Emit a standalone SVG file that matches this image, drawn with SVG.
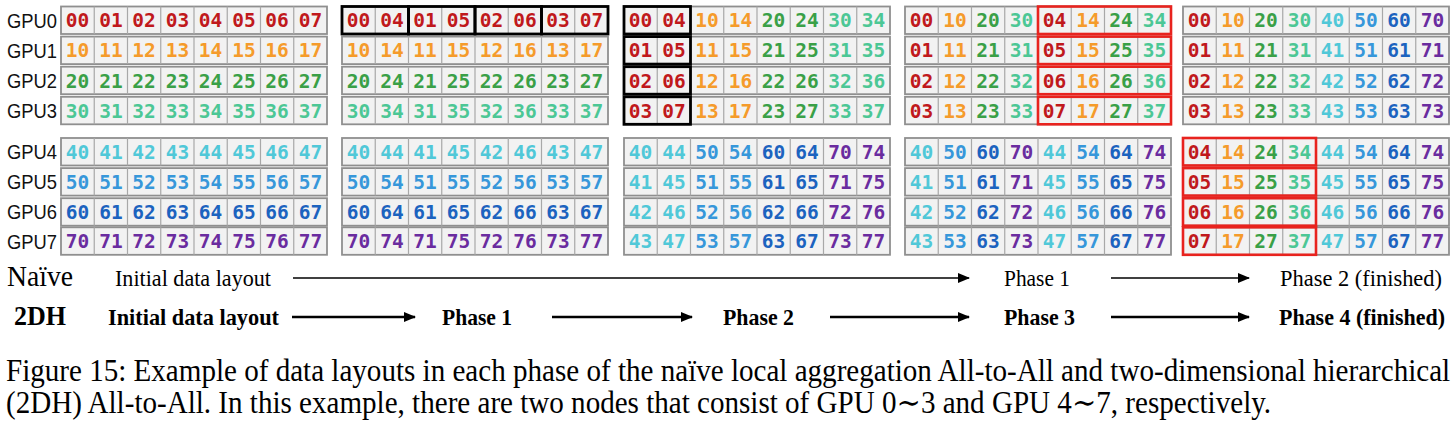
<svg xmlns="http://www.w3.org/2000/svg" xmlns:xlink="http://www.w3.org/1999/xlink" width="1456" height="427" viewBox="0 0 1456 427">
<style>
.n text{font-family:"DejaVu Sans Mono","Liberation Mono",monospace;font-weight:bold;font-size:19.5px;text-anchor:middle}
.c0{fill:#C0191C}.c1{fill:#F59B2B}.c2{fill:#3AA047}.c3{fill:#4CC795}
.c4{fill:#50C8D8}.c5{fill:#3797DA}.c6{fill:#1C63BF}.c7{fill:#6A2C9F}
.gpu{font-family:"Liberation Sans",Arial,sans-serif;font-size:21px;fill:#111}
.lab{font-family:"Liberation Serif","Times New Roman",serif;font-size:23.5px;fill:#000}
.b{font-weight:bold;font-size:23px}
.cap{font-family:"Liberation Serif","DejaVu Serif","Times New Roman",serif;font-size:31px;fill:#000}
.kb{fill:none;stroke:#000;stroke-width:2.8}
.rb{fill:none;stroke:#E8231E;stroke-width:2.6}
.a1{stroke:#000;stroke-width:1.6;fill:none}
.a2{stroke:#000;stroke-width:2.4;fill:none}
</style>
<defs>
<g id="f">
<rect x="0" y="0" width="266" height="27.5" fill="#F2F2F2" stroke="#8F8F8F" stroke-width="1.8"/>
<path d="M33.25,0V27.5M66.5,0V27.5M99.75,0V27.5M133,0V27.5M166.25,0V27.5M199.5,0V27.5M232.75,0V27.5" stroke="#A8A8A8" stroke-width="1.2"/>
</g>
<marker id="ah" viewBox="0 0 12 10" refX="11" refY="5" markerWidth="12" markerHeight="10" markerUnits="userSpaceOnUse" orient="auto"><path d="M0,0L12,5L0,10z" fill="#000"/></marker>
</defs>

<g id="gpu-labels" class="gpu">
<text x="7" y="27.75" textLength="50" lengthAdjust="spacingAndGlyphs">GPU0</text>
<text x="7" y="57.85" textLength="50" lengthAdjust="spacingAndGlyphs">GPU1</text>
<text x="7" y="87.95" textLength="50" lengthAdjust="spacingAndGlyphs">GPU2</text>
<text x="7" y="118.05" textLength="50" lengthAdjust="spacingAndGlyphs">GPU3</text>
<text x="7" y="159.25" textLength="50" lengthAdjust="spacingAndGlyphs">GPU4</text>
<text x="7" y="189.35" textLength="50" lengthAdjust="spacingAndGlyphs">GPU5</text>
<text x="7" y="219.45" textLength="50" lengthAdjust="spacingAndGlyphs">GPU6</text>
<text x="7" y="248.55" textLength="50" lengthAdjust="spacingAndGlyphs">GPU7</text>
</g>

<!-- Panel 1: initial layout -->
<g id="panel1" class="n">
<use xlink:href="#f" x="61" y="6.5"/><use xlink:href="#f" x="61" y="36.6"/><use xlink:href="#f" x="61" y="66.7"/><use xlink:href="#f" x="61" y="96.8"/>
<use xlink:href="#f" x="61" y="138"/><use xlink:href="#f" x="61" y="168.1"/><use xlink:href="#f" x="61" y="198.2"/><use xlink:href="#f" x="61" y="227.3"/>
<g transform="translate(61,27.3)" class="c0"><text x="16.6">00</text><text x="49.9">01</text><text x="83.1">02</text><text x="116.4">03</text><text x="149.6">04</text><text x="182.9">05</text><text x="216.1">06</text><text x="249.4">07</text></g>
<g transform="translate(61,57.4)" class="c1"><text x="16.6">10</text><text x="49.9">11</text><text x="83.1">12</text><text x="116.4">13</text><text x="149.6">14</text><text x="182.9">15</text><text x="216.1">16</text><text x="249.4">17</text></g>
<g transform="translate(61,87.5)" class="c2"><text x="16.6">20</text><text x="49.9">21</text><text x="83.1">22</text><text x="116.4">23</text><text x="149.6">24</text><text x="182.9">25</text><text x="216.1">26</text><text x="249.4">27</text></g>
<g transform="translate(61,117.6)" class="c3"><text x="16.6">30</text><text x="49.9">31</text><text x="83.1">32</text><text x="116.4">33</text><text x="149.6">34</text><text x="182.9">35</text><text x="216.1">36</text><text x="249.4">37</text></g>
<g transform="translate(61,158.8)" class="c4"><text x="16.6">40</text><text x="49.9">41</text><text x="83.1">42</text><text x="116.4">43</text><text x="149.6">44</text><text x="182.9">45</text><text x="216.1">46</text><text x="249.4">47</text></g>
<g transform="translate(61,188.9)" class="c5"><text x="16.6">50</text><text x="49.9">51</text><text x="83.1">52</text><text x="116.4">53</text><text x="149.6">54</text><text x="182.9">55</text><text x="216.1">56</text><text x="249.4">57</text></g>
<g transform="translate(61,219)" class="c6"><text x="16.6">60</text><text x="49.9">61</text><text x="83.1">62</text><text x="116.4">63</text><text x="149.6">64</text><text x="182.9">65</text><text x="216.1">66</text><text x="249.4">67</text></g>
<g transform="translate(61,248.1)" class="c7"><text x="16.6">70</text><text x="49.9">71</text><text x="83.1">72</text><text x="116.4">73</text><text x="149.6">74</text><text x="182.9">75</text><text x="216.1">76</text><text x="249.4">77</text></g>
</g>

<!-- Panel 2 -->
<g id="panel2" class="n">
<use xlink:href="#f" x="342" y="6.5"/><use xlink:href="#f" x="342" y="36.6"/><use xlink:href="#f" x="342" y="66.7"/><use xlink:href="#f" x="342" y="96.8"/>
<use xlink:href="#f" x="342" y="138"/><use xlink:href="#f" x="342" y="168.1"/><use xlink:href="#f" x="342" y="198.2"/><use xlink:href="#f" x="342" y="227.3"/>
<g transform="translate(342,27.3)" class="c0"><text x="16.6">00</text><text x="49.9">04</text><text x="83.1">01</text><text x="116.4">05</text><text x="149.6">02</text><text x="182.9">06</text><text x="216.1">03</text><text x="249.4">07</text></g>
<g transform="translate(342,57.4)" class="c1"><text x="16.6">10</text><text x="49.9">14</text><text x="83.1">11</text><text x="116.4">15</text><text x="149.6">12</text><text x="182.9">16</text><text x="216.1">13</text><text x="249.4">17</text></g>
<g transform="translate(342,87.5)" class="c2"><text x="16.6">20</text><text x="49.9">24</text><text x="83.1">21</text><text x="116.4">25</text><text x="149.6">22</text><text x="182.9">26</text><text x="216.1">23</text><text x="249.4">27</text></g>
<g transform="translate(342,117.6)" class="c3"><text x="16.6">30</text><text x="49.9">34</text><text x="83.1">31</text><text x="116.4">35</text><text x="149.6">32</text><text x="182.9">36</text><text x="216.1">33</text><text x="249.4">37</text></g>
<g transform="translate(342,158.8)" class="c4"><text x="16.6">40</text><text x="49.9">44</text><text x="83.1">41</text><text x="116.4">45</text><text x="149.6">42</text><text x="182.9">46</text><text x="216.1">43</text><text x="249.4">47</text></g>
<g transform="translate(342,188.9)" class="c5"><text x="16.6">50</text><text x="49.9">54</text><text x="83.1">51</text><text x="116.4">55</text><text x="149.6">52</text><text x="182.9">56</text><text x="216.1">53</text><text x="249.4">57</text></g>
<g transform="translate(342,219)" class="c6"><text x="16.6">60</text><text x="49.9">64</text><text x="83.1">61</text><text x="116.4">65</text><text x="149.6">62</text><text x="182.9">66</text><text x="216.1">63</text><text x="249.4">67</text></g>
<g transform="translate(342,248.1)" class="c7"><text x="16.6">70</text><text x="49.9">74</text><text x="83.1">71</text><text x="116.4">75</text><text x="149.6">72</text><text x="182.9">76</text><text x="216.1">73</text><text x="249.4">77</text></g>
<rect class="kb" x="342" y="6.5" width="66.5" height="27.5"/><rect class="kb" x="408.5" y="6.5" width="66.5" height="27.5"/><rect class="kb" x="475" y="6.5" width="66.5" height="27.5"/><rect class="kb" x="541.5" y="6.5" width="66.5" height="27.5"/>
</g>

<!-- Panel 3 -->
<g id="panel3" class="n">
<use xlink:href="#f" x="624" y="6.5"/><use xlink:href="#f" x="624" y="36.6"/><use xlink:href="#f" x="624" y="66.7"/><use xlink:href="#f" x="624" y="96.8"/>
<use xlink:href="#f" x="624" y="138"/><use xlink:href="#f" x="624" y="168.1"/><use xlink:href="#f" x="624" y="198.2"/><use xlink:href="#f" x="624" y="227.3"/>
<g transform="translate(624,27.3)"><text x="16.6" class="c0">00</text><text x="49.9" class="c0">04</text><text x="83.1" class="c1">10</text><text x="116.4" class="c1">14</text><text x="149.6" class="c2">20</text><text x="182.9" class="c2">24</text><text x="216.1" class="c3">30</text><text x="249.4" class="c3">34</text></g>
<g transform="translate(624,57.4)"><text x="16.6" class="c0">01</text><text x="49.9" class="c0">05</text><text x="83.1" class="c1">11</text><text x="116.4" class="c1">15</text><text x="149.6" class="c2">21</text><text x="182.9" class="c2">25</text><text x="216.1" class="c3">31</text><text x="249.4" class="c3">35</text></g>
<g transform="translate(624,87.5)"><text x="16.6" class="c0">02</text><text x="49.9" class="c0">06</text><text x="83.1" class="c1">12</text><text x="116.4" class="c1">16</text><text x="149.6" class="c2">22</text><text x="182.9" class="c2">26</text><text x="216.1" class="c3">32</text><text x="249.4" class="c3">36</text></g>
<g transform="translate(624,117.6)"><text x="16.6" class="c0">03</text><text x="49.9" class="c0">07</text><text x="83.1" class="c1">13</text><text x="116.4" class="c1">17</text><text x="149.6" class="c2">23</text><text x="182.9" class="c2">27</text><text x="216.1" class="c3">33</text><text x="249.4" class="c3">37</text></g>
<g transform="translate(624,158.8)"><text x="16.6" class="c4">40</text><text x="49.9" class="c4">44</text><text x="83.1" class="c5">50</text><text x="116.4" class="c5">54</text><text x="149.6" class="c6">60</text><text x="182.9" class="c6">64</text><text x="216.1" class="c7">70</text><text x="249.4" class="c7">74</text></g>
<g transform="translate(624,188.9)"><text x="16.6" class="c4">41</text><text x="49.9" class="c4">45</text><text x="83.1" class="c5">51</text><text x="116.4" class="c5">55</text><text x="149.6" class="c6">61</text><text x="182.9" class="c6">65</text><text x="216.1" class="c7">71</text><text x="249.4" class="c7">75</text></g>
<g transform="translate(624,219)"><text x="16.6" class="c4">42</text><text x="49.9" class="c4">46</text><text x="83.1" class="c5">52</text><text x="116.4" class="c5">56</text><text x="149.6" class="c6">62</text><text x="182.9" class="c6">66</text><text x="216.1" class="c7">72</text><text x="249.4" class="c7">76</text></g>
<g transform="translate(624,248.1)"><text x="16.6" class="c4">43</text><text x="49.9" class="c4">47</text><text x="83.1" class="c5">53</text><text x="116.4" class="c5">57</text><text x="149.6" class="c6">63</text><text x="182.9" class="c6">67</text><text x="216.1" class="c7">73</text><text x="249.4" class="c7">77</text></g>
<rect class="kb" x="624" y="6.5" width="66.5" height="27.5"/><rect class="kb" x="624" y="36.6" width="66.5" height="27.5"/><rect class="kb" x="624" y="66.7" width="66.5" height="27.5"/><rect class="kb" x="624" y="96.8" width="66.5" height="27.5"/>
</g>

<!-- Panel 4 -->
<g id="panel4" class="n">
<use xlink:href="#f" x="905" y="6.5"/><use xlink:href="#f" x="905" y="36.6"/><use xlink:href="#f" x="905" y="66.7"/><use xlink:href="#f" x="905" y="96.8"/>
<use xlink:href="#f" x="905" y="138"/><use xlink:href="#f" x="905" y="168.1"/><use xlink:href="#f" x="905" y="198.2"/><use xlink:href="#f" x="905" y="227.3"/>
<g transform="translate(905,27.3)"><text x="16.6" class="c0">00</text><text x="49.9" class="c1">10</text><text x="83.1" class="c2">20</text><text x="116.4" class="c3">30</text><text x="149.6" class="c0">04</text><text x="182.9" class="c1">14</text><text x="216.1" class="c2">24</text><text x="249.4" class="c3">34</text></g>
<g transform="translate(905,57.4)"><text x="16.6" class="c0">01</text><text x="49.9" class="c1">11</text><text x="83.1" class="c2">21</text><text x="116.4" class="c3">31</text><text x="149.6" class="c0">05</text><text x="182.9" class="c1">15</text><text x="216.1" class="c2">25</text><text x="249.4" class="c3">35</text></g>
<g transform="translate(905,87.5)"><text x="16.6" class="c0">02</text><text x="49.9" class="c1">12</text><text x="83.1" class="c2">22</text><text x="116.4" class="c3">32</text><text x="149.6" class="c0">06</text><text x="182.9" class="c1">16</text><text x="216.1" class="c2">26</text><text x="249.4" class="c3">36</text></g>
<g transform="translate(905,117.6)"><text x="16.6" class="c0">03</text><text x="49.9" class="c1">13</text><text x="83.1" class="c2">23</text><text x="116.4" class="c3">33</text><text x="149.6" class="c0">07</text><text x="182.9" class="c1">17</text><text x="216.1" class="c2">27</text><text x="249.4" class="c3">37</text></g>
<g transform="translate(905,158.8)"><text x="16.6" class="c4">40</text><text x="49.9" class="c5">50</text><text x="83.1" class="c6">60</text><text x="116.4" class="c7">70</text><text x="149.6" class="c4">44</text><text x="182.9" class="c5">54</text><text x="216.1" class="c6">64</text><text x="249.4" class="c7">74</text></g>
<g transform="translate(905,188.9)"><text x="16.6" class="c4">41</text><text x="49.9" class="c5">51</text><text x="83.1" class="c6">61</text><text x="116.4" class="c7">71</text><text x="149.6" class="c4">45</text><text x="182.9" class="c5">55</text><text x="216.1" class="c6">65</text><text x="249.4" class="c7">75</text></g>
<g transform="translate(905,219)"><text x="16.6" class="c4">42</text><text x="49.9" class="c5">52</text><text x="83.1" class="c6">62</text><text x="116.4" class="c7">72</text><text x="149.6" class="c4">46</text><text x="182.9" class="c5">56</text><text x="216.1" class="c6">66</text><text x="249.4" class="c7">76</text></g>
<g transform="translate(905,248.1)"><text x="16.6" class="c4">43</text><text x="49.9" class="c5">53</text><text x="83.1" class="c6">63</text><text x="116.4" class="c7">73</text><text x="149.6" class="c4">47</text><text x="182.9" class="c5">57</text><text x="216.1" class="c6">67</text><text x="249.4" class="c7">77</text></g>
<rect class="rb" x="1038" y="6.5" width="133" height="27.5"/><rect class="rb" x="1038" y="36.6" width="133" height="27.5"/><rect class="rb" x="1038" y="66.7" width="133" height="27.5"/><rect class="rb" x="1038" y="96.8" width="133" height="27.5"/>
</g>

<!-- Panel 5 -->
<g id="panel5" class="n">
<use xlink:href="#f" x="1183" y="6.5"/><use xlink:href="#f" x="1183" y="36.6"/><use xlink:href="#f" x="1183" y="66.7"/><use xlink:href="#f" x="1183" y="96.8"/>
<use xlink:href="#f" x="1183" y="138"/><use xlink:href="#f" x="1183" y="168.1"/><use xlink:href="#f" x="1183" y="198.2"/><use xlink:href="#f" x="1183" y="227.3"/>
<g transform="translate(1183,27.3)"><text x="16.6" class="c0">00</text><text x="49.9" class="c1">10</text><text x="83.1" class="c2">20</text><text x="116.4" class="c3">30</text><text x="149.6" class="c4">40</text><text x="182.9" class="c5">50</text><text x="216.1" class="c6">60</text><text x="249.4" class="c7">70</text></g>
<g transform="translate(1183,57.4)"><text x="16.6" class="c0">01</text><text x="49.9" class="c1">11</text><text x="83.1" class="c2">21</text><text x="116.4" class="c3">31</text><text x="149.6" class="c4">41</text><text x="182.9" class="c5">51</text><text x="216.1" class="c6">61</text><text x="249.4" class="c7">71</text></g>
<g transform="translate(1183,87.5)"><text x="16.6" class="c0">02</text><text x="49.9" class="c1">12</text><text x="83.1" class="c2">22</text><text x="116.4" class="c3">32</text><text x="149.6" class="c4">42</text><text x="182.9" class="c5">52</text><text x="216.1" class="c6">62</text><text x="249.4" class="c7">72</text></g>
<g transform="translate(1183,117.6)"><text x="16.6" class="c0">03</text><text x="49.9" class="c1">13</text><text x="83.1" class="c2">23</text><text x="116.4" class="c3">33</text><text x="149.6" class="c4">43</text><text x="182.9" class="c5">53</text><text x="216.1" class="c6">63</text><text x="249.4" class="c7">73</text></g>
<g transform="translate(1183,158.8)"><text x="16.6" class="c0">04</text><text x="49.9" class="c1">14</text><text x="83.1" class="c2">24</text><text x="116.4" class="c3">34</text><text x="149.6" class="c4">44</text><text x="182.9" class="c5">54</text><text x="216.1" class="c6">64</text><text x="249.4" class="c7">74</text></g>
<g transform="translate(1183,188.9)"><text x="16.6" class="c0">05</text><text x="49.9" class="c1">15</text><text x="83.1" class="c2">25</text><text x="116.4" class="c3">35</text><text x="149.6" class="c4">45</text><text x="182.9" class="c5">55</text><text x="216.1" class="c6">65</text><text x="249.4" class="c7">75</text></g>
<g transform="translate(1183,219)"><text x="16.6" class="c0">06</text><text x="49.9" class="c1">16</text><text x="83.1" class="c2">26</text><text x="116.4" class="c3">36</text><text x="149.6" class="c4">46</text><text x="182.9" class="c5">56</text><text x="216.1" class="c6">66</text><text x="249.4" class="c7">76</text></g>
<g transform="translate(1183,248.1)"><text x="16.6" class="c0">07</text><text x="49.9" class="c1">17</text><text x="83.1" class="c2">27</text><text x="116.4" class="c3">37</text><text x="149.6" class="c4">47</text><text x="182.9" class="c5">57</text><text x="216.1" class="c6">67</text><text x="249.4" class="c7">77</text></g>
<rect class="rb" x="1183" y="138" width="133" height="27.5"/><rect class="rb" x="1183" y="168.1" width="133" height="27.5"/><rect class="rb" x="1183" y="198.2" width="133" height="27.5"/><rect class="rb" x="1183" y="227.3" width="133" height="27.5"/>
</g>

<!-- Phase labels -->
<g id="naive-labels" class="lab">
<text x="7" y="286" font-size="29" textLength="66" lengthAdjust="spacingAndGlyphs">Naïve</text>
<text x="115" y="286" textLength="156" lengthAdjust="spacingAndGlyphs">Initial data layout</text>
<text x="1004" y="286" textLength="66" lengthAdjust="spacingAndGlyphs">Phase 1</text>
<text x="1280" y="286" textLength="162" lengthAdjust="spacingAndGlyphs">Phase 2 (finished)</text>
</g>
<g id="twodh-labels" class="lab b">
<text x="14" y="325" font-size="28" textLength="52" lengthAdjust="spacingAndGlyphs">2DH</text>
<text x="108" y="325" textLength="171" lengthAdjust="spacingAndGlyphs">Initial data layout</text>
<text x="442" y="325" textLength="70" lengthAdjust="spacingAndGlyphs">Phase 1</text>
<text x="723" y="325" textLength="71" lengthAdjust="spacingAndGlyphs">Phase 2</text>
<text x="1004" y="325" textLength="71" lengthAdjust="spacingAndGlyphs">Phase 3</text>
<text x="1279" y="325" textLength="166" lengthAdjust="spacingAndGlyphs">Phase 4 (finished)</text>
</g>

<!-- Connectors -->
<g id="connectors">
<line class="a1" x1="293" y1="278" x2="969" y2="278" marker-end="url(#ah)"/>
<line class="a1" x1="1111" y1="278" x2="1249" y2="278" marker-end="url(#ah)"/>
<line class="a2" x1="292" y1="317" x2="415" y2="317" marker-end="url(#ah)"/>
<line class="a2" x1="552" y1="317" x2="692" y2="317" marker-end="url(#ah)"/>
<line class="a2" x1="830" y1="317" x2="969" y2="317" marker-end="url(#ah)"/>
<line class="a2" x1="1111" y1="317" x2="1249" y2="317" marker-end="url(#ah)"/>
</g>

<!-- Caption -->
<g id="caption" class="cap">
<text transform="translate(6,381) scale(0.938,1)">Figure 15: Example of data layouts in each phase of the naïve local aggregation All-to-All and two-dimensional hierarchical</text>
<text transform="translate(6,413) scale(0.938,1)">(2DH) All-to-All. In this example, there are two nodes that consist of GPU 0∼3 and GPU 4∼7, respectively.</text>
</g>
</svg>
